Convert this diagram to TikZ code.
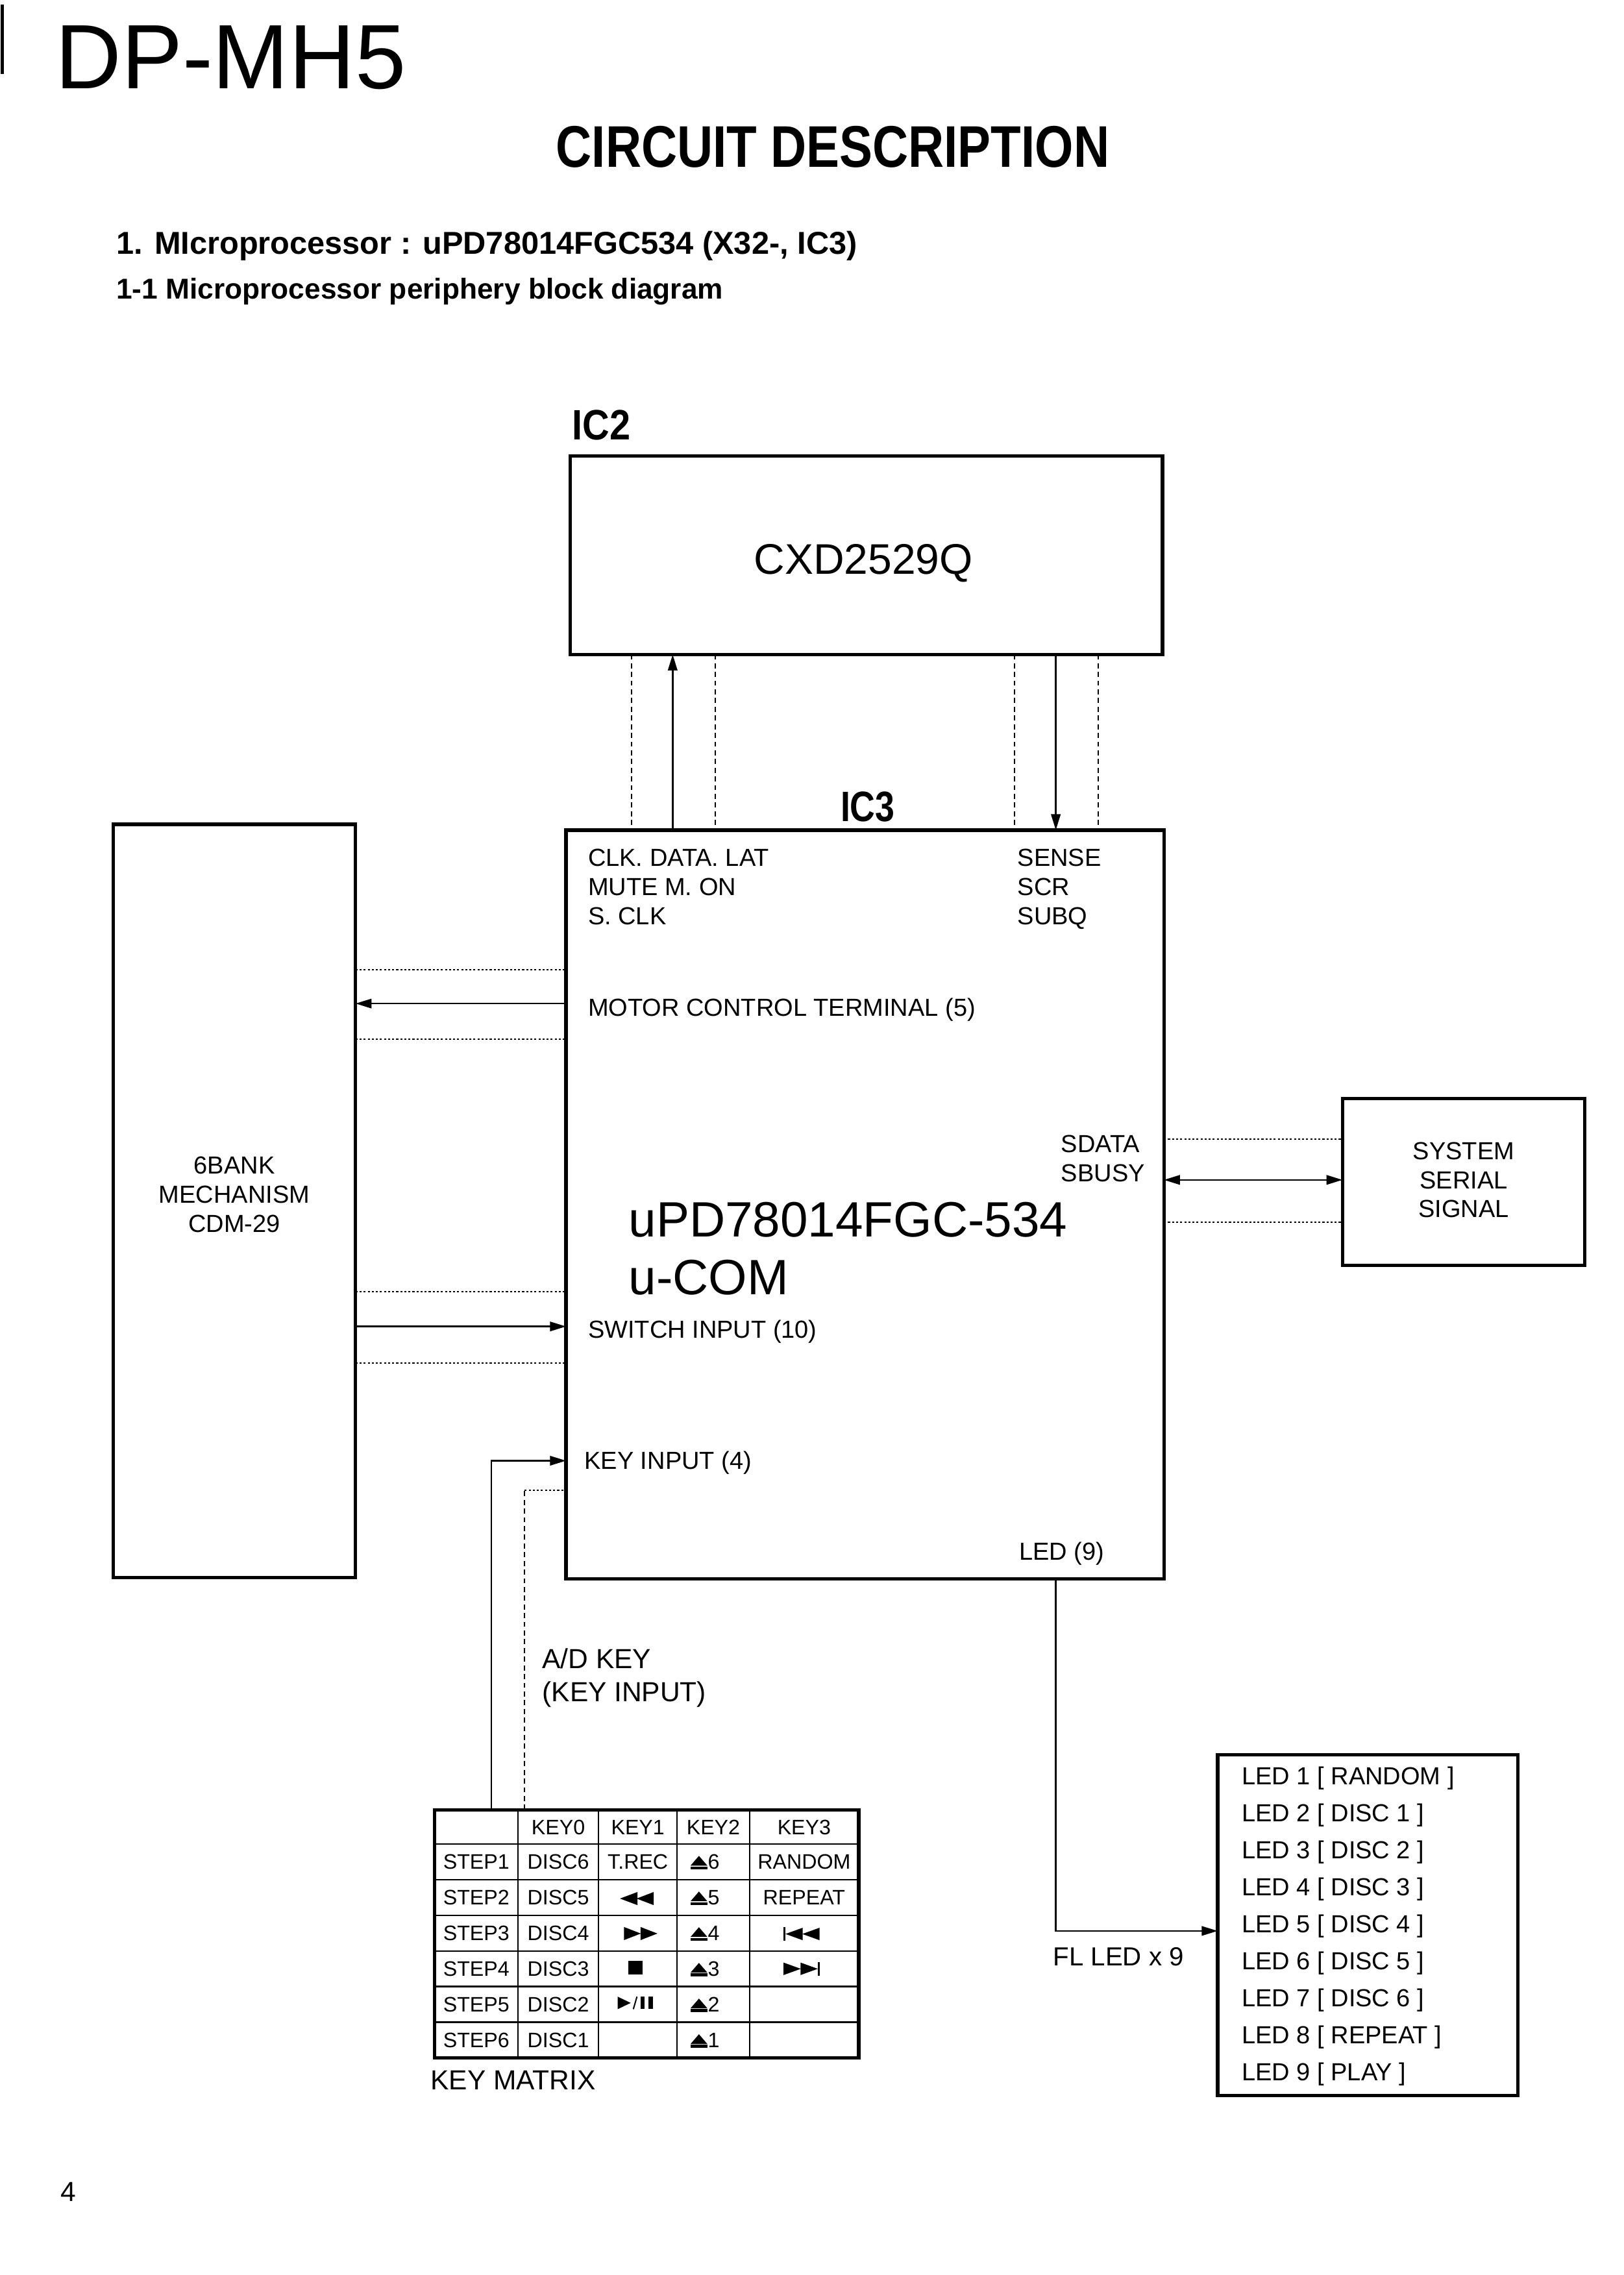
\documentclass[tikz,border=0pt]{standalone}
\usepackage{fontspec}
\setmainfont{Liberation Sans}
\usepackage{graphicx}
\usetikzlibrary{arrows.meta}
\begin{document}
\begin{tikzpicture}[x=1pt,y=-1pt,
  box/.style={draw,line width=2.3pt,rectangle,inner sep=0pt,outer sep=0pt,anchor=north west},
  arr/.style={line width=1.1pt,-{Triangle[length=11pt,width=6.5pt]}},
  darr/.style={line width=1.1pt,{Triangle[length=11pt,width=6.5pt]}-{Triangle[length=11pt,width=6.5pt]}},
  dotl/.style={line width=0.9pt,dash pattern=on 1.4pt off 1.4pt},
  dashl/.style={line width=0.9pt,dash pattern=on 3.5pt off 2.5pt},
  txt/.style={anchor=base west,inner sep=0pt,font=\fontsize{17}{20}\selectfont},
  ctxt/.style={anchor=base,inner sep=0pt,font=\fontsize{17}{20}\selectfont},
  bigt/.style={anchor=base west,inner sep=0pt,font=\fontsize{19}{22}\selectfont},
  cell/.style={anchor=base,inner sep=0pt,font=\fontsize{14.4}{16}\selectfont},
  tline/.style={line width=1pt},
  ejectp/.pic={\fill (-5.8,-2.5) -- (5.8,-2.5) -- (0,-9.2) -- cycle; \fill (-5.8,-1.9) rectangle (5.8,0);},
]
\fill[white] (0,0) rectangle (1119,1567.6);
\useasboundingbox (0,0) rectangle (1119,1567.6);

% page edge mark
\draw[line width=2pt] (1.5,3) -- (1.5,51);

% headings
\node[anchor=base west,inner sep=0pt,font=\fontsize{63}{70}\selectfont] (title) at (38,61) {DP-MH5};
\node[anchor=base west,inner sep=0pt,font=\fontsize{40.5}{45}\selectfont\bfseries] (cdesc) at (383,115) {\scalebox{0.843}[1]{CIRCUIT DESCRIPTION}};
\node[anchor=base west,inner sep=0pt,font=\fontsize{21.8}{24}\selectfont\bfseries] (head1) at (80,175) {1. MIcroprocessor : uPD78014FGC534 (X32-, IC3)};
\node[anchor=base west,inner sep=0pt,font=\fontsize{19.8}{22}\selectfont\bfseries] (head2) at (80,206) {1-1 Microprocessor periphery block diagram};

% IC labels
\node[anchor=base west,inner sep=0pt,font=\fontsize{29.3}{32}\selectfont\bfseries] (ic2l) at (394,303) {\scalebox{0.88}[1]{IC2}};
\node[anchor=base west,inner sep=0pt,font=\fontsize{29.3}{32}\selectfont\bfseries] (ic3l) at (579,566) {\scalebox{0.82}[1]{IC3}};

% boxes
\node[box,minimum width=408pt,minimum height=137pt] (cxd) at (393,314) {};
\node[box,minimum width=412pt,minimum height=516pt] (ic3) at (390,572) {};
\node[box,minimum width=167pt,minimum height=519pt] (bank) at (78,568) {};
\node[box,minimum width=167pt,minimum height=115pt] (sss) at (925,757) {};
\node[box,minimum width=207pt,minimum height=235pt] (ledbox) at (839,1209) {};
\node[box,minimum width=292.2pt,minimum height=171pt] (kmat) at (299.5,1247) {};

% box texts
\node[anchor=base,inner sep=0pt,font=\fontsize{29.5}{34}\selectfont] (cxdt) at (595,395.5) {CXD2529Q};
\node[txt] (t1) at (405,597) {CLK. DATA. LAT};
\node[txt] (t2) at (405,617) {MUTE M. ON};
\node[txt] (t3) at (405,637) {S. CLK};
\node[txt] (t4) at (701,597) {SENSE};
\node[txt] (t5) at (701,617) {SCR};
\node[txt] (t6) at (701,637) {SUBQ};
\node[txt] (t7) at (405,700) {MOTOR CONTROL TERMINAL (5)};
\node[txt] (t8) at (731,794) {SDATA};
\node[txt] (t9) at (731,814) {SBUSY};
\node[anchor=base west,inner sep=0pt,font=\fontsize{34.2}{40}\selectfont] (t10) at (433,852) {uPD78014FGC-534};
\node[anchor=base west,inner sep=0pt,font=\fontsize{34.2}{40}\selectfont] (t11) at (433,892) {u-COM};
\node[txt] (t12) at (405,922) {SWITCH INPUT (10)};
\node[txt] (t13) at (402.5,1012.5) {KEY INPUT (4)};
\node[txt] (t14) at (702,1075) {LED (9)};
\node[ctxt] (b1) at (161.5,809) {6BANK};
\node[ctxt] (b2) at (161.5,829) {MECHANISM};
\node[ctxt] (b3) at (161.5,849) {CDM-29};
\node[ctxt] (s1) at (1008.5,799) {SYSTEM};
\node[ctxt] (s2) at (1008.5,819) {SERIAL};
\node[ctxt] (s3) at (1008.5,839) {SIGNAL};
\node[bigt] (ad1) at (373.5,1149.5) {A/D KEY};
\node[bigt] (ad2) at (373.5,1172.5) {(KEY INPUT)};
\node[bigt] (kml) at (296.5,1440) {KEY MATRIX};
\node[anchor=base west,inner sep=0pt,font=\fontsize{18}{21}\selectfont] (flled) at (725.5,1354.5) {FL LED x 9};
\foreach \i/\s in {1/RANDOM,2/DISC 1,3/DISC 2,4/DISC 3,5/DISC 4,6/DISC 5,7/DISC 6,8/REPEAT,9/PLAY}
  \node[txt] (led\i) at (855.5,{1229.7+25.5*(\i-1)}) {LED \i\ [ \s\ ]};
\node[anchor=base west,inner sep=0pt,font=\fontsize{19}{22}\selectfont] (pnum) at (41.5,1517) {4};

% connectors CXD <-> IC3
\coordinate (v1) at (435.2,0);
\coordinate (v2) at (463.5,0);
\coordinate (v3) at (492.8,0);
\coordinate (v4) at (699,0);
\coordinate (v5) at (727.5,0);
\coordinate (v6) at (756.6,0);
\draw[dashl] (v1 |- cxd.south) -- (v1 |- ic3.north);
\draw[arr] (v2 |- ic3.north) -- (v2 |- cxd.south);
\draw[dashl] (v3 |- cxd.south) -- (v3 |- ic3.north);
\draw[dashl] (v4 |- cxd.south) -- (v4 |- ic3.north);
\draw[arr] (v5 |- cxd.south) -- (v5 |- ic3.north);
\draw[dashl] (v6 |- cxd.south) -- (v6 |- ic3.north);

% bank <-> IC3
\coordinate (h1) at (0,668);
\coordinate (h2) at (0,691.5);
\coordinate (h3) at (0,716);
\coordinate (h4) at (0,890);
\coordinate (h5) at (0,914);
\coordinate (h6) at (0,939);
\draw[dotl] (bank.east |- h1) -- (ic3.west |- h1);
\draw[arr] (ic3.west |- h2) -- (bank.east |- h2);
\draw[dotl] (bank.east |- h3) -- (ic3.west |- h3);
\draw[dotl] (bank.east |- h4) -- (ic3.west |- h4);
\draw[arr] (bank.east |- h5) -- (ic3.west |- h5);
\draw[dotl] (bank.east |- h6) -- (ic3.west |- h6);

% IC3 <-> system serial
\coordinate (r1) at (0,785);
\coordinate (r2) at (0,813);
\coordinate (r3) at (0,842);
\draw[dotl] (ic3.east |- r1) -- (sss.west |- r1);
\draw[darr] (ic3.east |- r2) -- (sss.west |- r2);
\draw[dotl] (ic3.east |- r3) -- (sss.west |- r3);

% key matrix -> IC3
\coordinate (kx) at (338.5,0);
\coordinate (ky) at (0,1006.5);
\coordinate (dx) at (361.5,0);
\coordinate (dy) at (0,1027);
\draw[arr] (kx |- kmat.north) -- (kx |- ky) -- (ic3.west |- ky);
\draw[dashl] (dx |- kmat.north) -- (dx |- dy);
\draw[dotl] (dx |- dy) -- (ic3.west |- dy);

% LED
\coordinate (lx) at (727.5,0);
\coordinate (ly) at (0,1330.5);
\draw[arr] (lx |- ic3.south) -- (lx |- ly) -- (ledbox.west |- ly);

% key matrix grid
\foreach \x in {357,412.5,466.5,516.5}
  \draw[tline] (\x,1247) -- (\x,1418);
\foreach \y in {1270.5,1295.1,1319.7,1344.3,1368.8,1393.4}
  \draw[tline] (299.5,\y) -- (591.7,\y);

% header
\node[cell] (k0) at (384.7,1264) {KEY0};
\node[cell] (k1) at (439.5,1264) {KEY1};
\node[cell] (k2) at (491.5,1264) {KEY2};
\node[cell] (k3) at (554.1,1264) {KEY3};
% rows
\foreach \i in {1,...,6}{
  \pgfmathsetmacro{\yb}{1270.5+24.58*(\i-0.5)+5.2}
  \pgfmathtruncatemacro{\d}{7-\i}
  \node[cell] (st\i) at (328.2,\yb) {STEP\i};
  \node[cell] (dc\i) at (384.7,\yb) {DISC\d};
  \pic at (481.6,\yb) {ejectp};
  \node[anchor=base west,inner sep=0pt,font=\fontsize{14.4}{16}\selectfont] (ej\i) at (487.6,\yb) {\d};
}
\node[cell] (trec) at (439.5,1288) {T.REC};
\node[cell] (rnd) at (554.1,1288) {RANDOM};
\node[cell] (rpt) at (554.1,1312.6) {REPEAT};

% symbols
% rewind
\fill (427.2,1308.2) -- (439.2,1303.7) -- (439.2,1312.7) -- cycle;
\fill (438.6,1308.2) -- (450.4,1303.7) -- (450.4,1312.7) -- cycle;
% fast forward
\fill (430,1327.8) -- (441.6,1332.3) -- (430,1336.8) -- cycle;
\fill (441.4,1327.8) -- (453,1332.3) -- (441.4,1336.8) -- cycle;
% stop
\fill (433.1,1351.3) rectangle (442.8,1360.7);
% play/pause
\fill (425.6,1375.8) -- (434.6,1380.1) -- (425.6,1384.4) -- cycle;
\draw[line width=0.9pt] (436.4,1384.4) -- (438.9,1375.8);
\fill (441.3,1375.8) rectangle (444.3,1384.4);
\fill (446.6,1375.8) rectangle (449.8,1384.4);
% previous
\fill (539.9,1328) rectangle (541.2,1337.2);
\fill (541.2,1332.6) -- (553.1,1328.3) -- (553.1,1336.9) -- cycle;
\fill (552.8,1332.6) -- (564.7,1328.3) -- (564.7,1336.9) -- cycle;
% next
\fill (539.9,1352.3) -- (551.8,1356.6) -- (539.9,1360.9) -- cycle;
\fill (551.6,1352.3) -- (563.5,1356.6) -- (551.6,1360.9) -- cycle;
\fill (563.4,1352) rectangle (564.7,1361.2);
\end{tikzpicture}
\end{document}
